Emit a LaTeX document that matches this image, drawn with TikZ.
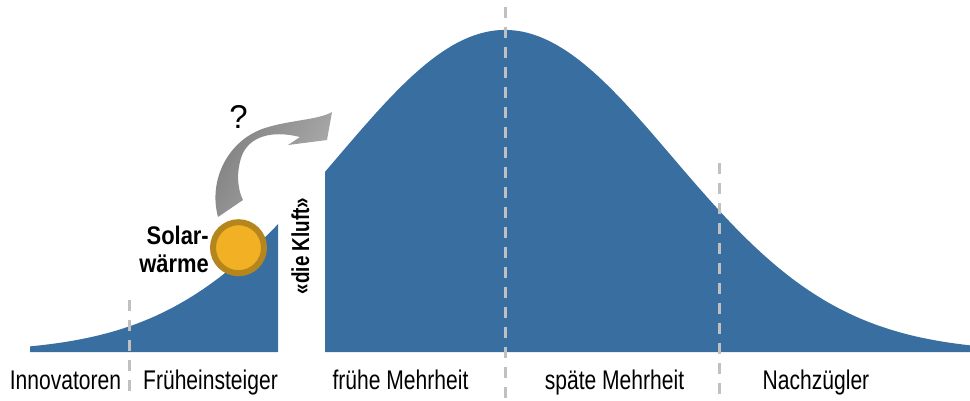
\documentclass[tikz,border=0pt]{standalone}
\usepackage{fontspec}
\setmainfont{Liberation Sans}
\newfontfamily\narrowfont[FakeStretch=0.78]{Liberation Sans}
\newfontfamily\solarfont[FakeStretch=0.86]{Liberation Sans}
\newfontfamily\kluftfont[FakeStretch=0.77]{Liberation Sans}
\definecolor{curveblue}{HTML}{386EA0}
\definecolor{sunfill}{HTML}{F2B124}
\definecolor{sunring}{HTML}{B5861E}
\definecolor{arrowdark}{HTML}{7F7F7F}
\definecolor{arrowlight}{HTML}{B0B0B0}
\definecolor{dashgray}{HTML}{C0C0C0}
\begin{document}
\begin{tikzpicture}[x=1pt,y=-1pt,
  curvefill/.style={fill=curveblue},
  divider/.style={draw=dashgray, line width=3pt, dash pattern=on 11pt off 9pt},
  phase/.style={font=\narrowfont\fontsize{27}{30}\selectfont, anchor=base, inner sep=0pt},
  sunnode/.style={circle, draw=sunring, fill=sunfill, line width=6pt, minimum size=51pt, inner sep=0pt},
]
\useasboundingbox (0,0) rectangle (970,400);
% bell curve, left part and right part
\fill[curvefill] plot[domain=30:278, samples=120] (\x, {352-322*exp(-0.5*((\x-505)/167)*((\x-505)/167))}) -- (278,352) -- (30,352) -- cycle;
\fill[curvefill] plot[domain=325:970, samples=200] (\x, {352-322*exp(-0.5*((\x-505)/167)*((\x-505)/167))}) -- (970,352) -- (325,352) -- cycle;
% dividers
\coordinate (d1a) at (129,300); \coordinate (d1b) at (129,398);
\coordinate (d2a) at (505,7.3); \coordinate (d2b) at (505,398);
\coordinate (d3a) at (719,163.3); \coordinate (d3b) at (719,398);
\draw[divider] (d1a) -- (d1b);
\draw[divider] (d2a) -- (d2b);
\draw[divider] (d3a) -- (d3b);
% curved arrow
\shade[left color=arrowdark, right color=arrowlight, shading angle=60]
  (218,217) .. controls (208,180) and (228,140) .. (265,128)
  .. controls (290,120) and (318,120) .. (332,112)
  -- (327,140) -- (288,145) -- (300,137)
  .. controls (272,130) and (248,136) .. (241,158)
  .. controls (236,175) and (238,190) .. (243,200) -- cycle;
% sun
\node[sunnode] (sun) at (238.5,247.7) {};
% texts
\node[font=\fontsize{33}{36}\selectfont, anchor=base, inner sep=0pt] (q) at (238.5,128) {?};
\node[font=\solarfont\bfseries\fontsize{25.5}{27.7}\selectfont, align=right, anchor=east, inner sep=0pt] (solar) at (209,249.5) {Solar-\\wärme};
\node[font=\kluftfont\bfseries\fontsize{24.5}{27}\selectfont, rotate=90, anchor=base, inner sep=0pt] (kluft) at (309,246) {«die Kluft»};
\node[phase] (p1) at (65.5,389.3) {Innovatoren};
\node[phase] (p2) at (210.5,389.3) {Früheinsteiger};
\node[phase] (p3) at (400.5,389.3) {frühe Mehrheit};
\node[phase] (p4) at (614.5,389.3) {späte Mehrheit};
\node[phase] (p5) at (816,389.3) {Nachzügler};
\end{tikzpicture}
\end{document}
